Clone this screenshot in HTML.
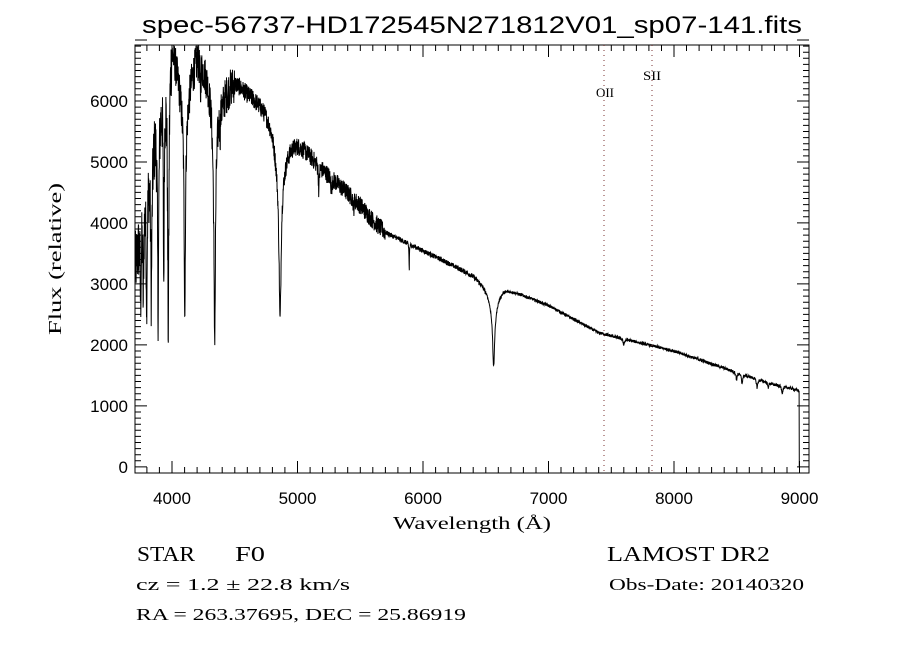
<!DOCTYPE html>
<html><head><meta charset="utf-8"><style>
html,body{margin:0;padding:0;background:#fff;}
svg{display:block;}
text{font-family:"Liberation Sans",sans-serif;fill:#000;}
.s{font-family:"Liberation Serif",serif;}
</style></head><body>
<svg id="c" width="900" height="650" xmlns="http://www.w3.org/2000/svg">
<rect width="900" height="650" fill="#fff"/>
<text x="472" y="33" font-size="24" text-anchor="middle" textLength="660" lengthAdjust="spacingAndGlyphs">spec-56737-HD172545N271812V01_sp07-141.fits</text>
<g id="ax" stroke="#000" stroke-width="1" fill="none"></g>
<path id="sp" stroke="#000" stroke-width="1" fill="none"/>
<line x1="604" y1="45" x2="604" y2="473" stroke="#7a3030" stroke-dasharray="1,4"/>
<line x1="652" y1="45" x2="652" y2="473" stroke="#7a3030" stroke-dasharray="1,4"/>
<text class="s" x="596" y="97" font-size="13" textLength="18" lengthAdjust="spacingAndGlyphs">OII</text>
<text class="s" x="643" y="80" font-size="13" textLength="18" lengthAdjust="spacingAndGlyphs">SII</text>
<g id="lab" font-size="17"></g>
<text class="s" x="393" y="529" font-size="18" textLength="158" lengthAdjust="spacingAndGlyphs">Wavelength (Å)</text>
<text class="s" transform="translate(61,335) rotate(-90)" font-size="18" textLength="152" lengthAdjust="spacingAndGlyphs">Flux (relative)</text>
<text class="s" x="137" y="561" font-size="21" textLength="58" lengthAdjust="spacingAndGlyphs">STAR</text>
<text class="s" x="235" y="561" font-size="21" textLength="30" lengthAdjust="spacingAndGlyphs">F0</text>
<text class="s" x="607" y="561" font-size="21" textLength="163" lengthAdjust="spacingAndGlyphs">LAMOST DR2</text>
<text class="s" x="136" y="590" font-size="17" textLength="214" lengthAdjust="spacingAndGlyphs">cz = 1.2 ± 22.8 km/s</text>
<text class="s" x="609" y="590" font-size="17" textLength="195" lengthAdjust="spacingAndGlyphs">Obs-Date: 20140320</text>
<text class="s" x="136" y="620" font-size="17" textLength="330" lengthAdjust="spacingAndGlyphs">RA = 263.37695, DEC =  25.86919</text>
</svg>
<script>
var L=135,R=809,T=45,B=473;
function X(l){return 172+(l-4000)*0.1255;}
function Y(f){return 473-(f+100)*0.06099;}
var ax=document.getElementById('ax'),lab=document.getElementById('lab');
var s='M'+L+' '+T+'H'+R+'V'+B+'H'+L+'Z';
for(var l=3800;l<=9000;l+=100){var x=X(l).toFixed(1);var m=(l%1000==0);var h=m?12:6;
s+='M'+x+' '+B+'v'+(-h)+'M'+x+' '+T+'v'+h;
if(m){lab.innerHTML+='<text x="'+x+'" y="504" text-anchor="middle">'+l+'</text>';}}
for(var f=0;f<=7000;f+=100){var y=Y(f).toFixed(1);var m=(f%1000==0);var h=m?12:6;
s+='M'+L+' '+y+'h'+h+'M'+R+' '+y+'h'+(-h);
if(m&&f<7000){lab.innerHTML+='<text x="128" y="'+(Y(f)+6).toFixed(1)+'" text-anchor="end">'+f+'</text>';}}
var p=document.createElementNS('http://www.w3.org/2000/svg','path');p.setAttribute('d',s);ax.appendChild(p);
var C=[[3705,3300],[3750,3900],[3800,4700],[3850,5400],[3900,6000],[3950,6400],[4000,7100],[4050,6700],[4100,6500],[4150,6700],[4200,6900],[4300,6700],[4400,6300],[4500,6400],[4600,6200],[4700,6050],[4800,5900],[4900,5550],[5000,5400],[5100,5150],[5200,4900],[5300,4700],[5400,4500],[5500,4300],[5600,4050],[5700,3850],[5800,3750],[6000,3550],[6200,3350],[6400,3150],[6500,3000],[6650,2950],[7000,2650],[7400,2200],[7700,2050],[8000,1900],[8500,1550],[8800,1350],[8950,1280],[8995,1250]];
function cont(l){for(var i=0;i<C.length-1;i++){if(l<=C[i+1][0]){var a=C[i],b=C[i+1];return a[1]+(b[1]-a[1])*(l-a[0])/(b[0]-a[0]);}}return 1250;}
var lines=[[3750,0.3,4],[3771,0.35,4],[3798,0.4,5],[3835,0.45,6],[3889,0.55,6],[3934,0.5,4],[3970,0.65,6],[4102,0.55,6],[4340,0.62,8],[4861,0.5,10],[4861,0.15,60],[4340,0.12,50],[4102,0.12,40],[6563,0.35,9],[6563,0.15,40],[5890,0.12,2],[5170,0.08,4],[5270,0.05,4],[4227,0.08,3],[4383,0.06,3],[8498,0.08,5],[8542,0.1,6],[8662,0.1,6],[8750,0.06,5],[8863,0.08,6],[7600,0.04,8],[5447,0.05,3]];
var seed=12345;function rnd(){seed=(seed*1103515245+12345)%2147483648;return seed/2147483648;}
var d='';var first=true;
for(var l=3705;l<=9000;l+=1.5){var f=cont(l);
for(var k=0;k<lines.length;k++){var q=(l-lines[k][0])/lines[k][2];f*=1-lines[k][1]/(1+q*q);}
var n=l<4000?550:l<4500?320:l<5700?150:l<6500?40:25;
f+=(rnd()-0.5)*n*2;
if(l>8997)f=0;
var y=Math.max(T,Y(f));
d+=(first?'M':'L')+X(l).toFixed(1)+' '+y.toFixed(1);first=false;}
d+='L'+X(9000).toFixed(1)+' '+Y(0).toFixed(1);
document.getElementById('sp').setAttribute('d',d);
</script>
</body></html>
